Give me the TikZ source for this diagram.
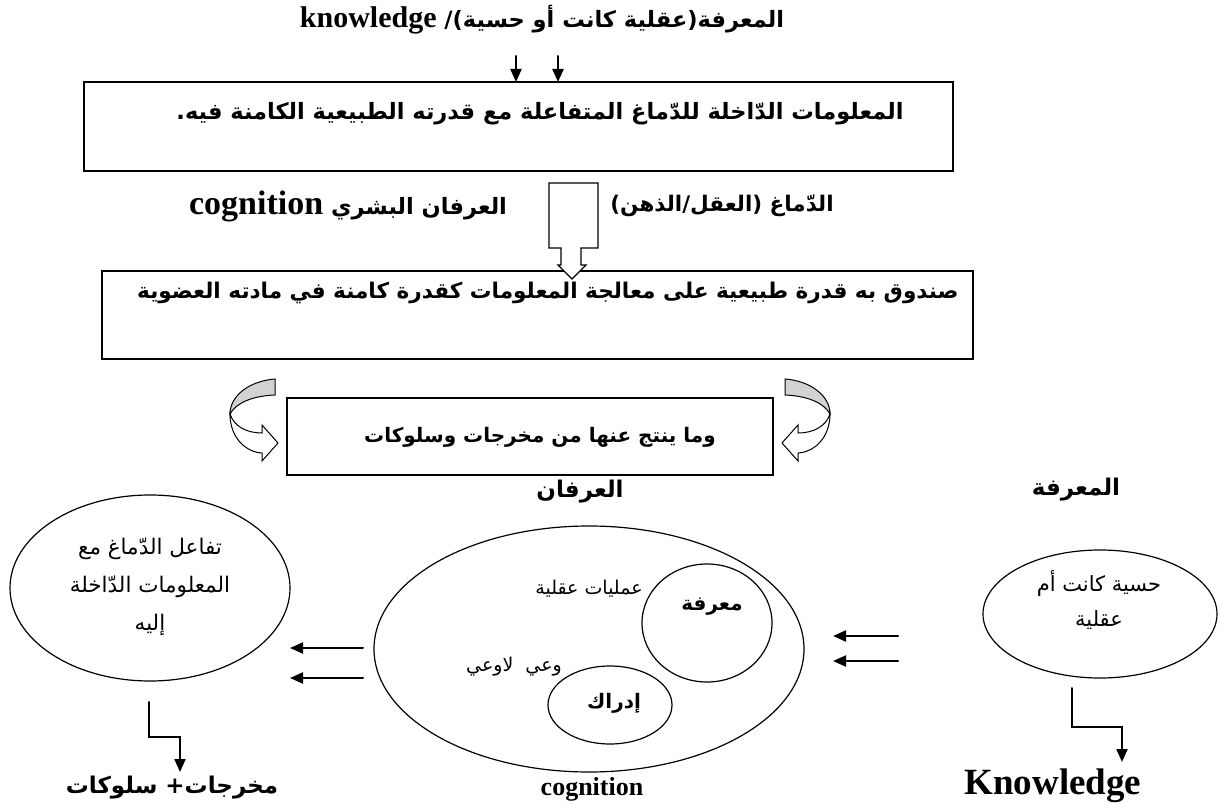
\documentclass[tikz,border=0pt]{standalone}
\usepackage{fontspec}
\usepackage{tkz-euclide}
\usetikzlibrary{shapes.geometric,arrows.meta}
\newfontfamily\arabicfont[Script=Arabic]{DejaVu Sans}
\newfontfamily\latinfont{Liberation Serif}
\TeXXeTstate=1
\newcommand\artxt[1]{{\arabicfont\beginR #1\endR}}
\newcommand\lat[2]{\beginL{\latinfont\bfseries\fontsize{#1}{#1}\selectfont #2}\endL}
\newcommand\swirl{%
\draw[line width=1pt, fill=gray!35] (275,379) .. controls (249,381) and (230,396) .. (230,414)
  .. controls (236,403) and (252,396) .. (275,395) -- cycle;
\draw[line width=1pt, fill=white] (230,414) .. controls (230,437) and (245,452) .. (262,453)
  -- (262,461) -- (278,443) -- (262,425) -- (262,433) .. controls (246,433) and (234,426) .. (230,414) -- cycle;}
\tikzset{
  box/.style={draw, line width=2.2pt, inner sep=0pt},
  blob/.style={draw, ellipse, line width=1.2pt, inner sep=0pt},
  arw/.style={line width=2pt, -{Triangle[length=13pt,width=11pt]}},
  lbl/.style={inner sep=0pt, align=center}
}

\begin{document}
\begin{tikzpicture}[x=1pt,y=-1pt]
\useasboundingbox (0,0) rectangle (1224,810);
\node[lbl, font=\fontsize{22.5}{26}\selectfont] (title) at (542,20)
  {\artxt{\bfseries المعرفة(عقلية كانت أو حسية)/ \lat{30}{knowledge}}};
\tkzDefPoints{516/56/A, 516/82/B, 558/56/C, 558/82/D}
\tkzDrawSegments[arw](A,B C,D)
\node[box, minimum width=869, minimum height=89] (info) at (518.5,126.5) {};
\node[lbl, font=\fontsize{22.5}{26}\selectfont] (infotxt) at (540,114)
  {\artxt{\bfseries المعلومات الدّاخلة للدّماغ المتفاعلة مع قدرته الطبيعية الكامنة فيه.}};
\node[lbl, font=\fontsize{22.5}{27}\selectfont] (irfan) at (348,206)
  {\artxt{\bfseries العرفان البشري \lat{34}{cognition}}};
\node[lbl, font=\fontsize{21.5}{27}\selectfont] (dimagh) at (722,206)
  {\artxt{\bfseries الدّماغ (العقل/الذهن)}};
\node[box, minimum width=871, minimum height=88] (brainbox) at (537.5,315) {};
\node[lbl, font=\fontsize{21.6}{25}\selectfont] (braintxt) at (548,293)
  {\artxt{\bfseries صندوق به قدرة طبيعية على معالجة المعلومات كقدرة كامنة في مادته العضوية}};
\draw[line width=1.2pt, fill=white] (549,183) -- (598,183) -- (598,248) -- (581,248) -- (581,265)
  -- (586,265) -- (572,279) -- (558,265) -- (561,265) -- (561,248) -- (549,248) -- cycle;
\node[box, minimum width=486, minimum height=77] (result) at (530,436.5) {};
\node[lbl, font=\fontsize{20}{24}\selectfont] (resulttxt) at (540,437)
  {\artxt{\bfseries وما ينتج عنها من مخرجات وسلوكات}};
\swirl
\begin{scope}[shift={(1060,0)}, xscale=-1]
\swirl
\end{scope}
\node[lbl, font=\fontsize{23}{27}\selectfont] (irfanlbl) at (580,492) {\artxt{\bfseries العرفان}};
\node[lbl, font=\fontsize{23}{27}\selectfont] (marifalbl) at (1076,490) {\artxt{\bfseries المعرفة}};
\node[blob, minimum width=280, minimum height=186] (interact) at (150,588) {};
\node[lbl, font=\fontsize{21.5}{38}\selectfont] (interacttxt) at (150,587)
  {\artxt{تفاعل الدّماغ مع}\\\artxt{المعلومات الدّاخلة}\\\artxt{إليه}};
\node[blob, minimum width=430, minimum height=246] (cog) at (589,649) {};
\node[blob, minimum width=130, minimum height=118] (marifa) at (707,623) {};
\node[blob, minimum width=124, minimum height=78] (idrak) at (610,705) {};
\node[lbl, font=\fontsize{19}{23}\selectfont] (amaliyat) at (589,589) {\artxt{عمليات عقلية}};
\node[lbl, font=\fontsize{19}{23}\selectfont] (wai) at (514,667) {\artxt{وعي\ \ لاوعي}};
\node[lbl, font=\fontsize{20}{24}\selectfont] (marifatxt) at (712,607) {\artxt{\bfseries معرفة}};
\node[lbl, font=\fontsize{20}{24}\selectfont] (idraktxt) at (614,703) {\artxt{\bfseries إدراك}};
\node[blob, minimum width=234, minimum height=128] (sense) at (1100,614) {};
\node[lbl, font=\fontsize{21}{35}\selectfont] (sensetxt) at (1099,600)
  {\artxt{حسية كانت أم}\\\artxt{عقلية}};
\tkzDefPoints{363/648/E, 290/648/F, 363/678/G, 290/678/H, 898/636/I, 833/636/J, 898/661/K, 833/661/L}
\tkzDrawSegments[arw](E,F G,H I,J K,L)
\tkzDefPoints{149/702/M, 149/737/N, 180/737/O, 180/772/P, 1072/688/Q, 1072/727/R, 1122/727/S, 1122/762/T}
\tkzDrawPolySeg[arw](M,N,O,P)
\tkzDrawPolySeg[arw](Q,R,S,T)
\node[lbl, font=\fontsize{23}{27}\selectfont] (outputs) at (172,788) {\artxt{\bfseries مخرجات+ سلوكات}};
\node[lbl, font=\latinfont\bfseries\fontsize{26}{26}\selectfont] (coglbl) at (592,789) {cognition};
\node[lbl, font=\latinfont\bfseries\fontsize{37}{37}\selectfont] (knowlbl) at (1053,786) {Knowledge};
\end{tikzpicture}
\end{document}
